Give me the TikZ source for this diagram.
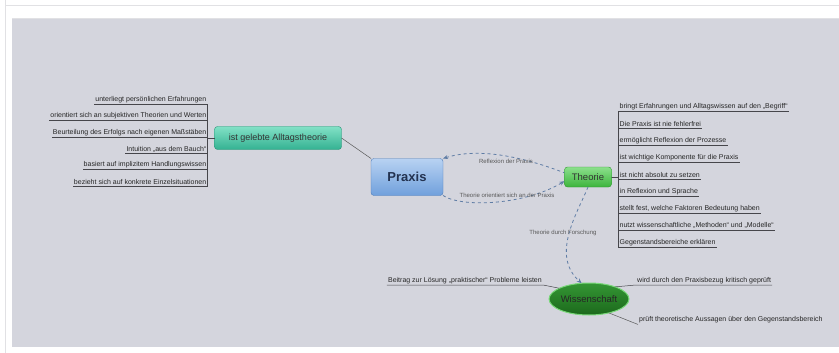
\documentclass[tikz,border=0pt]{standalone}
\usepackage{fontspec}
\setmainfont{Liberation Sans}
\usetikzlibrary{shapes.geometric,arrows.meta}

\definecolor{panel}{RGB}{212,213,221}
\definecolor{framegray}{RGB}{225,225,228}
\definecolor{praxistop}{RGB}{184,210,242}
\definecolor{praxisbot}{RGB}{112,160,220}
\definecolor{praxisline}{RGB}{80,125,185}
\definecolor{praxistext}{RGB}{35,50,80}
\definecolor{tealtop}{RGB}{130,225,198}
\definecolor{tealbot}{RGB}{52,178,146}
\definecolor{tealline}{RGB}{40,145,118}
\definecolor{greentop}{RGB}{140,224,140}
\definecolor{greenbot}{RGB}{60,180,60}
\definecolor{greenline}{RGB}{45,150,45}
\definecolor{darktop}{RGB}{52,150,52}
\definecolor{darkbot}{RGB}{28,105,28}
\definecolor{darkrim}{RGB}{120,215,120}
\definecolor{linkblue}{RGB}{95,125,165}
\definecolor{leafgray}{RGB}{70,70,75}

\begin{document}
\begin{tikzpicture}[x=1pt,y=-1pt,every node/.style={outer sep=0pt}]
\tikzset{
    mainbox/.style  = {draw=praxisline,rounded corners=3pt,top color=praxistop,bottom color=praxisbot,
                        minimum width=72pt,minimum height=37pt,text=praxistext,
                        font=\fontsize{13}{15}\selectfont\bfseries},
    tealbox/.style  = {draw=tealline,rounded corners=3pt,top color=tealtop,bottom color=tealbot,
                        minimum width=127pt,minimum height=23pt,text=black!80,
                        font=\fontsize{9}{11}\selectfont},
    greenbox/.style = {draw=greenline,rounded corners=3pt,top color=greentop,bottom color=greenbot,
                        minimum width=47pt,minimum height=20pt,text=black!80,
                        font=\fontsize{9.5}{11}\selectfont},
    darkoval/.style = {ellipse,draw=darkrim,line width=1pt,top color=darktop,bottom color=darkbot,
                        minimum width=78pt,minimum height=32pt,inner sep=0pt,text=black!85,
                        font=\fontsize{9.5}{11}\selectfont},
    leaf/.style     = {inner sep=1.2pt,text=black!85,font=\fontsize{7}{8}\selectfont},
    leafline/.style = {draw=leafgray,line width=0.5pt},
    plainline/.style= {draw=gray!70!black,line width=0.5pt},
    link/.style     = {draw=linkblue,line width=0.8pt,dashed,-{Stealth[length=5pt,width=4pt]}},
    linklabel/.style= {inner sep=0.5pt,text=black!65,font=\fontsize{6}{7}\selectfont}
}

\useasboundingbox (0,0) rectangle (839,353);

%% frame and panel
\fill[white] (0,0) rectangle (839,353);
\draw[framegray] (5,0) -- (5,353);
\draw[framegray] (5,5) -- (839,5);
\fill[panel] (12,19) rectangle (839,347);
\draw[framegray] (12,18.5) -- (839,18.5);

%% main topics
\node (praxis) [mainbox] at (407,177) {Praxis};
\node (alltag) [tealbox] at (278,138) {ist gelebte Alltagstheorie};
\node (theorie) [greenbox] at (588,177) {Theorie};
\node (wiss) [darkoval] at (589,299) {Wissenschaft};

\draw[plainline] (alltag.east) -- (praxis.north west);

%% left list
\foreach \txt [count=\i] in {unterliegt persönlichen Erfahrungen,
        orientiert sich an subjektiven Theorien und Werten,
        Beurteilung des Erfolgs nach eigenen Maßstäben,
        Intuition „aus dem Bauch“,
        basiert auf implizitem Handlungswissen,
        bezieht sich auf konkrete Einzelsituationen}
{
    \node (links\i) [leaf,anchor=south east] at (207.5,{104+16.4*(\i-1)}) {\txt};
    \draw[leafline] (alltag.west) -- ++(-7,0) |- (links\i.south east) -- (links\i.south west);
}

%% right list
\foreach \txt [count=\i] in {bringt Erfahrungen und Alltagswissen auf den „Begriff“,
        Die Praxis ist nie fehlerfrei,
        ermöglicht Reflexion der Prozesse,
        ist wichtige Komponente für die Praxis,
        ist nicht absolut zu setzen,
        in Reflexion und Sprache,
        {stellt fest, welche Faktoren Bedeutung haben},
        nutzt wissenschaftliche „Methoden“ und „Modelle“,
        Gegenstandsbereiche erklären}
{
    \node (rechts\i) [leaf,anchor=south west] at (618.5,{111+17*(\i-1)}) {\txt};
    \draw[leafline] (theorie.east) -- ++(7,0) |- (rechts\i.south west) -- (rechts\i.south east);
}

%% links between praxis and theorie
\draw[link,{Stealth[length=5pt,width=4pt]}-] (praxis.north east) .. controls (470,150) and (508,151) .. (theorie.170);
\node (lreflex) [linklabel] at (506,161) {Reflexion der Praxis};
\draw[link] (praxis.south east) .. controls (462,208) and (525,205) .. (theorie.190);
\node (lorient) [linklabel] at (507,195) {Theorie orientiert sich an der Praxis};

%% theorie to wissenschaft
\draw[link] (theorie.south) .. controls (578,212) and (550,255) .. (wiss.115);
\node (lforsch) [linklabel] at (563,233) {Theorie durch Forschung};

%% wissenschaft items
\node (wlinks) [leaf,anchor=south east] at (543,285) {Beitrag zur Lösung „praktischer“ Probleme leisten};
\draw[leafline] (wiss.160) -- (wlinks.south east) -- (wlinks.south west);
\node (wrechts1) [leaf,anchor=south west] at (636,285) {wird durch den Praxisbezug kritisch geprüft};
\draw[leafline] (wiss.25) -- (wrechts1.south west) -- (wrechts1.south east);
\node (wrechts2) [leaf,anchor=west] at (638,320) {prüft theoretische Aussagen über den Gegenstandsbereich};
\draw[plainline] (wiss.-35) -- (wrechts2.south west);

\end{tikzpicture}
\end{document}
